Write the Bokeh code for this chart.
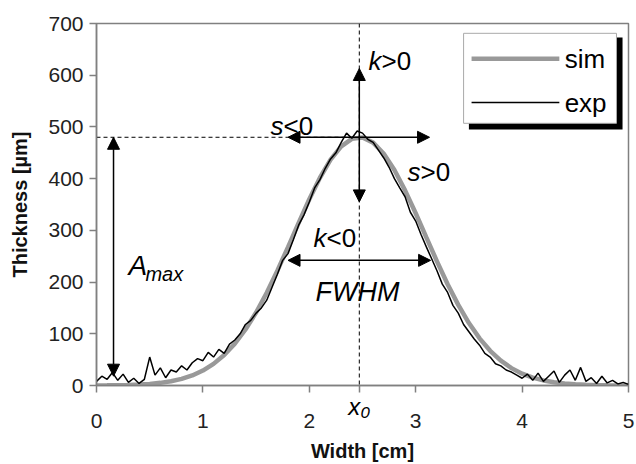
from bokeh.plotting import figure
from bokeh.models import Label, Arrow, NormalHead, Span, Range1d, FixedTicker, LinearAxis
from bokeh.embed import file_html
from bokeh.resources import INLINE
from bokeh.core.properties import value
import numpy as np

FONT = "Liberation Sans"

# simulated profile, sampled every 0.1 cm
sim_x = np.round(np.arange(0, 5.0001, 0.1), 2)
sim_y = [0.2, 0.3, 0.6, 1.0, 1.8, 3.1, 5.1, 8.2, 12.8, 19.4,
         28.9, 41.8, 58.9, 80.9, 108.3, 141.2, 179.3, 222.0, 267.7, 314.5,
         360.1, 401.7, 436.6, 462.3, 476.9, 479.4, 469.6, 448.1, 416.6, 377.4,
         333.1, 286.4, 240.0, 195.9, 155.9, 120.8, 91.2, 67.1, 48.1, 33.6,
         22.9, 15.2, 9.8, 6.2, 3.8, 2.3, 1.3, 0.7, 0.4, 0.2, 0.1]

# experimental profile, sampled every 0.05 cm
exp_x = np.round(np.arange(0, 5.0001, 0.05), 2)
exp_y = [8, 18, 12, 25, 10, 22, 6, 14, 4, 12,
         55, 20, 34, 15, 30, 26, 38, 30, 44, 52,
         48, 64, 55, 70, 62, 80, 88, 100, 118, 126,
         140, 150, 165, 190, 215, 242, 255, 282, 310, 330,
         355, 382, 398, 420, 438, 450, 470, 488, 478, 492,
         488, 476, 470, 455, 440, 422, 400, 382, 365, 335,
         318, 292, 268, 245, 222, 196, 180, 155, 140, 118,
         104, 90, 78, 62, 55, 42, 38, 30, 26, 20,
         14, 22, 10, 24, 8, 18, 28, 6, 20, 30,
         10, 35, 8, 15, 4, 18, 5, 10, 3, 6, 2]

x_ticks = [0, 1, 2, 3, 4, 5]
y_ticks = [0, 100, 200, 300, 400, 500, 600, 700]

X0 = 2.47
AMAX = 480

p = figure(width=636, height=464, output_backend="svg", toolbar_location=None,
           x_range=Range1d(0, 5), y_range=Range1d(0, 700), x_axis_location=None,
           min_border_left=96, min_border_right=8, min_border_top=23, min_border_bottom=79)
p.background_fill_color = "white"
p.border_fill_color = "white"
p.outline_line_color = "#808080"
p.outline_line_width = 1.5
p.xgrid.visible = False
p.ygrid.visible = False

def style(ax):
    ax.axis_line_color = "#808080"
    ax.axis_line_width = 1.5
    ax.major_tick_line_color = "#808080"
    ax.major_tick_line_width = 1.5
    ax.major_tick_out = 7
    ax.major_tick_in = 0
    ax.minor_tick_line_color = None
    ax.major_label_text_font = FONT
    ax.major_label_text_font_size = "21px"
    ax.major_label_text_color = "#222222"
    ax.axis_label_text_font = FONT
    ax.axis_label_text_font_size = "20px"
    ax.axis_label_text_font_style = "bold"
    ax.axis_label_text_color = "#111111"

# y axis
style(p.yaxis[0])
p.yaxis.ticker = FixedTicker(ticks=y_ticks)
p.yaxis.axis_label = "Thickness [µm]"
p.yaxis.major_label_standoff = 6
p.yaxis.axis_label_standoff = 14

# x axis, part 1: axis line, ticks and the x0 marker
ax_a = LinearAxis(ticker=FixedTicker(ticks=x_ticks + [X0]))
style(ax_a)
ax_a.major_label_overrides = {**{t: "" for t in x_ticks}, X0: "x₀"}
ax_a.major_label_text_font_style = "italic"
ax_a.major_label_text_color = "black"
ax_a.major_label_text_font_size = "24px"
ax_a.major_label_standoff = 0
p.add_layout(ax_a, "below")

# x axis, part 2: numeric labels and title
ax_b = LinearAxis(ticker=FixedTicker(ticks=x_ticks))
style(ax_b)
ax_b.axis_line_color = None
ax_b.major_tick_line_color = None
ax_b.major_tick_out = 0
ax_b.major_label_standoff = -9
ax_b.axis_label = "Width [cm]"
ax_b.axis_label_standoff = 9
p.add_layout(ax_b, "below")

# dashed guides
p.add_layout(Span(location=X0, dimension="height", line_color="black",
                  line_width=1, line_dash="4 3"))
p.segment(x0=[0], y0=[AMAX], x1=[X0], y1=[AMAX], line_color="black",
          line_width=1, line_dash="4 3")

# curves
p.line(sim_x, sim_y, line_color="#999999", line_width=4.5)
p.line(exp_x, exp_y, line_color="black", line_width=1.5)

def arrow(xs, ys, xe, ye, both=False):
    head = lambda: NormalHead(size=12, fill_color="black", line_color="black")
    p.add_layout(Arrow(x_start=xs, y_start=ys, x_end=xe, y_end=ye,
                       end=head(), start=head() if both else None,
                       line_color="black", line_width=1.5))

arrow(X0, AMAX, X0, 613)
arrow(X0, AMAX, X0, 355)
arrow(X0, AMAX, 1.80, AMAX)
arrow(X0, AMAX, 3.13, AMAX)
arrow(1.80, 242, 3.14, 242, both=True)
arrow(0.16, 18, 0.16, AMAX, both=True)

def lab(x, y, text, size, italic=True, xoff=0):
    p.add_layout(Label(x=x, y=y, text=text, x_offset=xoff,
                       text_font=FONT, text_font_size=f"{size}px",
                       text_font_style="italic" if italic else "normal",
                       text_color="black", text_baseline="alphabetic",
                       text_align="left"))

lab(1.635, 501, "s", 26)
lab(1.635, 501, "<0", 26, italic=False, xoff=13)
lab(2.556, 628, "k", 26)
lab(2.556, 628, ">0", 26, italic=False, xoff=13)
lab(2.923, 412, "s", 26)
lab(2.923, 412, ">0", 26, italic=False, xoff=13)
lab(2.04, 286, "k", 26)
lab(2.04, 286, "<0", 26, italic=False, xoff=13)
lab(2.058, 180, "FWHM", 27)
lab(0.30, 232, "A", 28)
lab(0.46, 216, "max", 20)

# legend with drop shadow
p.quad(left=[3.50], right=[4.944], bottom=[495], top=[673],
       fill_color="black", line_color=None)
p.quad(left=[3.45], right=[4.887], bottom=[507], top=[681],
       fill_color="white", line_color="#aaaaaa", line_width=1)
p.segment(x0=[3.525], y0=[632], x1=[4.35], y1=[632], line_color="#999999", line_width=4.5)
p.segment(x0=[3.525], y0=[547], x1=[4.35], y1=[547], line_color="black", line_width=1.5)
p.text(x=[4.40, 4.40], y=[632, 547], text=["sim", "exp"], text_font=value(FONT),
       text_font_size="26px", text_baseline="middle", text_align="left", text_color="black")

open("out.html", "w").write(file_html(p, INLINE))
